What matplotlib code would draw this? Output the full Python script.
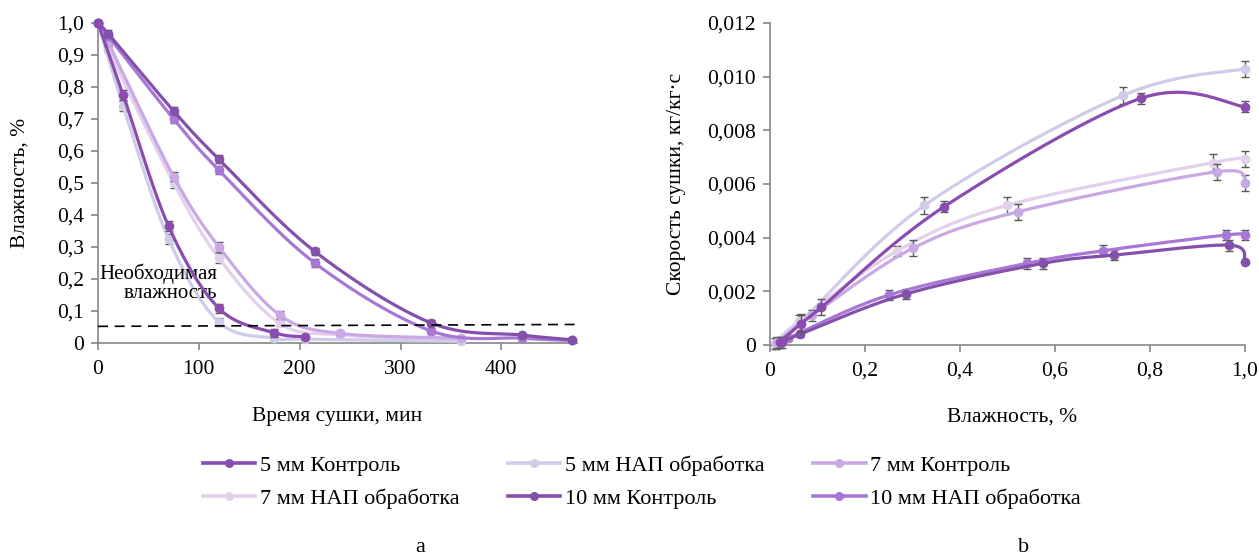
import numpy as np
import matplotlib.pyplot as plt

plt.rcParams['font.family'] = ['Liberation Serif', 'DejaVu Serif']

labels = ['5 мм Контроль', '5 мм НАП обработка', '7 мм Контроль',
          '7 мм НАП обработка', '10 мм Контроль', '10 мм НАП обработка']
colors = ['#8a4caf', '#cfcbe8', '#c9a8e4', '#e2d0ec', '#8350aa', '#a877d6']

# (a) moisture vs drying time
t_5k = [0, 25, 70, 120, 175, 205]
w_5k = [1.0, 0.775, 0.365, 0.108, 0.032, 0.02]
e_5k = [0, 0.015, 0.015, 0.015, 0.012, 0.0]
t_5n = [0, 25, 70, 120, 175, 205, 360]
w_5n = [1.0, 0.74, 0.325, 0.065, 0.015, 0.012, 0.005]
e_5n = [0, 0.015, 0.015, 0.012, 0.005, 0.005, 0.0]
t_7k = [0, 10, 75, 120, 180, 240, 360]
w_7k = [1.0, 0.94, 0.52, 0.30, 0.088, 0.03, 0.015]
e_7k = [0, 0.012, 0.015, 0.015, 0.012, 0.006, 0.0]
t_7n = [0, 10, 75, 120, 180, 240, 360]
w_7n = [1.0, 0.92, 0.50, 0.265, 0.062, 0.025, 0.01]
e_7n = [0, 0.01, 0.015, 0.015, 0.01, 0.005, 0.0]
t_10k = [0, 10, 75, 120, 215, 330, 420, 470]
w_10k = [1.0, 0.967, 0.725, 0.574, 0.286, 0.063, 0.025, 0.01]
e_10k = [0, 0.012, 0.012, 0.012, 0.012, 0.01, 0.006, 0.0]
t_10n = [0, 10, 75, 120, 215, 330, 420, 470]
w_10n = [1.0, 0.96, 0.70, 0.54, 0.25, 0.038, 0.015, 0.008]
e_10n = [0, 0.01, 0.012, 0.012, 0.012, 0.01, 0.005, 0.0]
need_t = [0, 475]
need_w = [0.052, 0.058]

# (b) drying rate vs moisture
m_5k = [0.02, 0.065, 0.108, 0.367, 0.782, 1.0]
r_5k = [0.0001, 0.0008, 0.0014, 0.00516, 0.0092, 0.00888]
s_5k = [0.0002, 0.0003, 0.0003, 0.0002, 0.0002, 0.0002]
m_5n = [0.012, 0.065, 0.325, 0.743, 1.0]
r_5n = [0.00005, 0.00087, 0.0052, 0.0093, 0.0103]
s_5n = [0.0002, 0.0003, 0.0003, 0.0003, 0.0003]
m_7k = [0.015, 0.088, 0.30, 0.523, 0.942, 1.0]
r_7k = [0.0001, 0.0011, 0.0036, 0.00497, 0.00646, 0.00603]
s_7k = [0.0002, 0.0002, 0.0003, 0.0003, 0.0003, 0.0003]
m_7n = [0.01, 0.062, 0.267, 0.498, 0.933, 1.0]
r_7n = [0.00005, 0.0009, 0.0035, 0.0052, 0.0068, 0.00692]
s_7n = [0.0002, 0.0002, 0.0002, 0.0003, 0.0003, 0.0003]
m_10k = [0.025, 0.063, 0.286, 0.574, 0.725, 0.967, 1.0]
r_10k = [0.0001, 0.0004, 0.0019, 0.00304, 0.00335, 0.00372, 0.0031]
s_10k = [0.0002, 0.0001, 0.0002, 0.0002, 0.0002, 0.0002, 0.0]
m_10n = [0.038, 0.25, 0.54, 0.70, 0.96, 1.0]
r_10n = [0.00025, 0.00186, 0.00304, 0.00351, 0.0041, 0.0041]
s_10n = [0.0001, 0.0002, 0.0002, 0.0002, 0.0002, 0.0002]


def smooth(x, y, n=40):
    # Excel-like smoothed line (Catmull-Rom Bezier)
    p = np.column_stack([x, y]).astype(float)
    seg = []
    tt = np.linspace(0, 1, n)[:, None]
    for i in range(len(p) - 1):
        p0 = p[max(i - 1, 0)]
        p1 = p[i]
        p2 = p[i + 1]
        p3 = p[min(i + 2, len(p) - 1)]
        c1 = p1 + (p2 - p0) / 6
        c2 = p2 - (p3 - p1) / 6
        b = ((1 - tt) ** 3) * p1 + 3 * ((1 - tt) ** 2) * tt * c1 \
            + 3 * (1 - tt) * tt ** 2 * c2 + tt ** 3 * p2
        seg.append(b)
    s = np.vstack(seg)
    return s[:, 0], s[:, 1]


def draw(ax, xs, ys, es, z):
    handles = []
    for x, y, e, c, lab, zz in zip(xs, ys, es, colors, labels, z):
        sx, sy = smooth(x, y)
        ax.errorbar(x, y, yerr=e, fmt='none', ecolor='#595959', elinewidth=1.0,
                    capsize=3, capthick=1.0, zorder=zz - 0.5, clip_on=False)
        ax.plot(sx, sy, color=c, lw=2.3, zorder=zz, clip_on=False,
                solid_capstyle='round')
        ax.plot(x, y, 'o', color=c, ms=6, zorder=zz, clip_on=False)
        h, = ax.plot([], [], color=c, lw=2.6, marker='o', ms=5.5)
        handles.append(h)
    return handles


def style(ax):
    for sp in ['top', 'right']:
        ax.spines[sp].set_visible(False)
    for sp in ['left', 'bottom']:
        ax.spines[sp].set_color('#868686')
        ax.spines[sp].set_linewidth(1.2)
    ax.tick_params(direction='out', length=5, width=1.2, color='#868686',
                   labelsize=15.5, labelcolor='black', pad=5)
    ax.tick_params(axis='x', pad=7)


W, H = 1259, 557
fig = plt.figure(figsize=(W / 100, H / 100), dpi=100)
ax1 = fig.add_axes([98 / W, 1 - 343 / H, 479 / W, 320 / H])
ax2 = fig.add_axes([770 / W, 1 - 345 / H, 475 / W, 322 / H])

z = [6, 3, 4, 2, 5, 4.5]
handles = draw(ax1, [t_5k, t_5n, t_7k, t_7n, t_10k, t_10n],
               [w_5k, w_5n, w_7k, w_7n, w_10k, w_10n],
               [e_5k, e_5n, e_7k, e_7n, e_10k, e_10n], z)
ax1.plot(need_t, need_w, color='black', lw=1.2, dashes=(6, 4), zorder=7)
ax1.text(118, 0.25, 'Необходимая\nвлажность', ha='right', va='top',
         fontsize=15, linespacing=1.0)
ax1.set_xlim(0, 475)
ax1.set_ylim(0, 1.0)
ax1.set_xticks([0, 100, 200, 300, 400])
ax1.set_yticks(np.arange(0, 1.01, 0.1))
ax1.set_yticklabels(['0'] + [f'{v:.1f}'.replace('.', ',') for v in np.arange(0.1, 1.01, 0.1)])
style(ax1)

draw(ax2, [m_5k, m_5n, m_7k, m_7n, m_10k, m_10n],
     [r_5k, r_5n, r_7k, r_7n, r_10k, r_10n],
     [s_5k, s_5n, s_7k, s_7n, s_10k, s_10n], z)
ax2.set_xlim(0, 1.0)
ax2.set_ylim(0, 0.012)
ax2.set_xticks(np.arange(0, 1.01, 0.2))
ax2.set_xticklabels(['0'] + [f'{v:.1f}'.replace('.', ',') for v in np.arange(0.2, 1.01, 0.2)])
ax2.set_yticks(np.arange(0, 0.0121, 0.002))
ax2.set_yticklabels(['0'] + [f'{v:.3f}'.replace('.', ',') for v in np.arange(0.002, 0.0121, 0.002)])
style(ax2)

fig.text(337 / W, 1 - 417 / H, 'Время сушки, мин', ha='center', va='center', fontsize=15.5)
fig.text(1012 / W, 1 - 417 / H, 'Влажность, %', ha='center', va='center', fontsize=15.5)
fig.text(20 / W, 1 - 183 / H, 'Влажность, %', ha='center', va='center',
         rotation=90, fontsize=15.5)
fig.text(677 / W, 1 - 184 / H, 'Скорость сушки, кг/кг·с', ha='center', va='center',
         rotation=90, fontsize=15.5)

order = [0, 3, 1, 4, 2, 5]
fig.legend([handles[i] for i in order], [labels[i] for i in order],
           loc='center left', bbox_to_anchor=(183 / W, 1 - 482 / H), ncol=3,
           frameon=False, fontsize=16, handlelength=2.35, handletextpad=0.2,
           columnspacing=2.2, labelspacing=0.55)

fig.text(420 / W, 1 - 547 / H, 'a', ha='center', va='center', fontsize=16)
fig.text(1024 / W, 1 - 547 / H, 'b', ha='center', va='center', fontsize=16)

plt.savefig('out.png', dpi=100)
